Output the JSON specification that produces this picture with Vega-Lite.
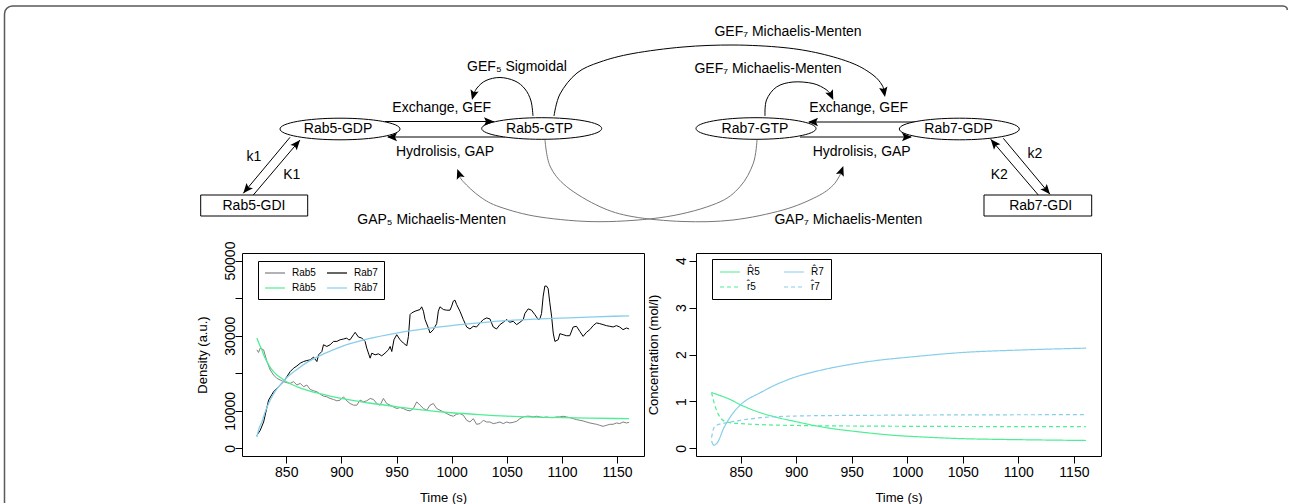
{
"$schema":"https://vega.github.io/schema/vega-lite/v6.json",
"padding":0,
"background":"white",
"config":{"font":"Liberation Sans","view":{"stroke":null},
 "axis":{"grid":false,"domain":false,"tickColor":"black","tickSize":7,"tickWidth":1,"labelColor":"black","titleColor":"black","labelFontSize":14,"titleFontSize":13,"titleFontWeight":"normal","labelFlush":false,"labelOverlap":false}},
"bounds":"flush",
"spacing":13,
"resolve":{"scale":{"color":"independent","strokeDash":"independent"},"legend":{"color":"independent","strokeDash":"independent"}},
"vconcat":[
{
 "width":1289,"height":240,
 "encoding":{
  "x":{"field":"x","type":"quantitative","scale":{"domain":[0,1289],"nice":false,"zero":false},"axis":null},
  "y":{"field":"y","type":"quantitative","scale":{"domain":[0,240],"nice":false,"zero":false,"reverse":true},"axis":null}
 },
 "layer":[
  {"data":{"values":[{"i":0,"x":4.5,"y":503},{"i":1,"x":4.5,"y":14},{"i":2,"x":5.1,"y":10.8},{"i":3,"x":6.8,"y":8.3},{"i":4,"x":9.3,"y":6.6},{"i":5,"x":12.5,"y":6},{"i":6,"x":1283,"y":6},{"i":7,"x":1285.5,"y":6.6},{"i":8,"x":1287,"y":8.2},{"i":9,"x":1287.4,"y":10}]},
   "mark":{"type":"line","stroke":"#5a5a5a","strokeWidth":1.5},
   "encoding":{"order":{"field":"i","type":"quantitative"}}},
  {"data":{"values":[
    {"x":385,"y":121.5,"x2":494,"y2":121.5},
    {"x":505,"y":137,"x2":388,"y2":137},
    {"x":925,"y":122,"x2":809,"y2":122},
    {"x":800,"y":137,"x2":911,"y2":137},
    {"x":290,"y":137.3,"x2":243.3,"y2":193.3},
    {"x":253.3,"y":195,"x2":300,"y2":140},
    {"x":1003.3,"y":138.3,"x2":1050,"y2":194.3},
    {"x":1038.3,"y":195,"x2":990.7,"y2":139.3}]},
   "mark":{"type":"rule","stroke":"black","strokeWidth":1},
   "encoding":{"x2":{"field":"x2"},"y2":{"field":"y2"}}},
  {"data":{"values":[
    {"id":"a","i":0,"x":533,"y":116},{"id":"a","i":1,"x":531,"y":101},{"id":"a","i":2,"x":525,"y":89},{"id":"a","i":3,"x":515,"y":81},{"id":"a","i":4,"x":500,"y":77.5},{"id":"a","i":5,"x":486,"y":80.5},{"id":"a","i":6,"x":477,"y":88},{"id":"a","i":7,"x":472.5,"y":97},
    {"id":"b","i":0,"x":554,"y":116},{"id":"b","i":1,"x":560,"y":94},{"id":"b","i":2,"x":577,"y":73},{"id":"b","i":3,"x":600,"y":62},{"id":"b","i":4,"x":633,"y":53.5},{"id":"b","i":5,"x":683,"y":47},{"id":"b","i":6,"x":733,"y":45},{"id":"b","i":7,"x":783,"y":47.5},{"id":"b","i":8,"x":820,"y":53.5},{"id":"b","i":9,"x":853,"y":63.5},{"id":"b","i":10,"x":873,"y":75},{"id":"b","i":11,"x":882,"y":85},{"id":"b","i":12,"x":885,"y":94},
    {"id":"c","i":0,"x":765,"y":116},{"id":"c","i":1,"x":766.5,"y":100},{"id":"c","i":2,"x":776.5,"y":87},{"id":"c","i":3,"x":793,"y":82},{"id":"c","i":4,"x":813,"y":83.5},{"id":"c","i":5,"x":826,"y":89.5},{"id":"c","i":6,"x":832,"y":96}]},
   "mark":{"type":"line","interpolate":"cardinal","stroke":"black","strokeWidth":1},
   "encoding":{"detail":{"field":"id"},"order":{"field":"i","type":"quantitative"}}},
  {"data":{"values":[
    {"id":"d","i":0,"x":545,"y":140},{"id":"d","i":1,"x":550,"y":166},{"id":"d","i":2,"x":566.7,"y":186.7},{"id":"d","i":3,"x":600,"y":206.7},{"id":"d","i":4,"x":633,"y":216.7},{"id":"d","i":5,"x":683,"y":221.5},{"id":"d","i":6,"x":733,"y":220},{"id":"d","i":7,"x":783,"y":210},{"id":"d","i":8,"x":816.7,"y":196.7},{"id":"d","i":9,"x":833.3,"y":185},{"id":"d","i":10,"x":841.5,"y":172},
    {"id":"e","i":0,"x":757,"y":140},{"id":"e","i":1,"x":753.3,"y":163.3},{"id":"e","i":2,"x":740,"y":186.7},{"id":"e","i":3,"x":716.7,"y":203.3},{"id":"e","i":4,"x":666.7,"y":216.7},{"id":"e","i":5,"x":600,"y":221.7},{"id":"e","i":6,"x":540,"y":217},{"id":"e","i":7,"x":500,"y":207},{"id":"e","i":8,"x":480,"y":196.7},{"id":"e","i":9,"x":463.3,"y":181.7},{"id":"e","i":10,"x":458.5,"y":174}]},
   "mark":{"type":"line","interpolate":"cardinal","stroke":"#777777","strokeWidth":1},
   "encoding":{"detail":{"field":"id"},"order":{"field":"i","type":"quantitative"}}},
  {"data":{"values":[{"x":340,"y":129},{"x":541.7,"y":128.5},{"x":756,"y":128.5},{"x":959.3,"y":129}]},
   "mark":{"type":"point","shape":"M-1,0A1,0.18,0,0,1,1,0A1,0.18,0,0,1,-1,0Z","size":14400,"filled":true,"fill":"white","stroke":"black","strokeWidth":1,"opacity":1}},
  {"data":{"values":[{"x":200.7,"y":195,"x2":307.7,"y2":216},{"x":984,"y":195,"x2":1091.7,"y2":216}]},
   "mark":{"type":"rect","fill":"white","stroke":"black","strokeWidth":1},
   "encoding":{"x2":{"field":"x2"},"y2":{"field":"y2"}}},
  {"data":{"values":[
    {"x":494,"y":121.5,"a":90},{"x":387,"y":137,"a":270},{"x":808,"y":122,"a":270},{"x":912,"y":137,"a":90},
    {"x":243.3,"y":193.3,"a":219.8},{"x":300,"y":140,"a":40.3},{"x":1050,"y":194.3,"a":140.2},{"x":990.7,"y":139.3,"a":319.5},
    {"x":472,"y":100,"a":195},{"x":885,"y":97,"a":170},{"x":833.3,"y":100,"a":155},{"x":457.3,"y":169,"a":340},{"x":843.3,"y":166,"a":20}]},
   "mark":{"type":"point","shape":"M0,0L-0.42,1L0,0.8L0.42,1Z","size":400,"filled":true,"fill":"black","strokeWidth":0,"opacity":1},
   "encoding":{"angle":{"field":"a","type":"quantitative","scale":null}}},
  {"data":{"values":[
    {"x":338,"y":129,"t":"Rab5-GDP"},{"x":539.5,"y":128.5,"t":"Rab5-GTP"},{"x":755,"y":128.5,"t":"Rab7-GTP"},{"x":958.5,"y":129,"t":"Rab7-GDP"},
    {"x":254,"y":205.7,"t":"Rab5-GDI"},{"x":1040.7,"y":205.7,"t":"Rab7-GDI"},
    {"x":441.7,"y":108.3,"t":"Exchange, GEF"},{"x":445,"y":151.7,"t":"Hydrolisis, GAP"},
    {"x":858.7,"y":108.3,"t":"Exchange, GEF"},{"x":861.7,"y":151.7,"t":"Hydrolisis, GAP"},
    {"x":517,"y":67,"t":"GEF₅ Sigmoidal"},{"x":788,"y":32.3,"t":"GEF₇ Michaelis-Menten"},{"x":768,"y":69.3,"t":"GEF₇ Michaelis-Menten"},
    {"x":431.7,"y":220,"t":"GAP₅ Michaelis-Menten"},{"x":848.4,"y":220,"t":"GAP₇ Michaelis-Menten"},
    {"x":254,"y":156.7,"t":"k1"},{"x":291.7,"y":175,"t":"K1"},{"x":1035,"y":154,"t":"k2"},{"x":999.3,"y":175,"t":"K2"}]},
   "mark":{"type":"text","align":"center","baseline":"middle","fontSize":14,"fill":"black"},
   "encoding":{"text":{"field":"t"}}}
 ]
},
{
 "bounds":"flush",
 "spacing":52,
 "resolve":{"scale":{"color":"independent","strokeDash":"independent"},"legend":{"color":"independent","strokeDash":"independent"}},
 "hconcat":[
  {"width":190,"height":203,"data":{"values":[{}]},"mark":{"type":"point","opacity":0}},
  {
   "width":402,"height":203,
   "view":{"stroke":"black","strokeWidth":1},
   "encoding":{
    "x":{"field":"t","type":"quantitative","scale":{"domain":[809.9,1174.4],"nice":false,"zero":false},"axis":{"values":[850,900,950,1000,1050,1100,1150],"format":"d","title":"Time (s)","labelPadding":2,"titlePadding":12}},
    "y":{"field":"v","type":"quantitative","scale":{"domain":[-2000,52000],"nice":false,"zero":false},"axis":{"values":[0,10000,20000,30000,40000,50000],"format":"d","title":"Density (a.u.)","labelAngle":-90,"labelAlign":"center","labelBaseline":"alphabetic","labelPadding":1,"titlePadding":14,"labelExpr":"datum.value == 20000 || datum.value == 40000 ? '' : datum.label"}},
    "color":{"field":"s","type":"nominal","scale":{"domain":["Rab5","Rab7","Rab5hat","Rab7hat"],"range":["#7f7f7f","#000000","#4eee94","#87ceeb"]},
     "legend":{"title":null,"orient":"none","legendX":16,"legendY":8,"direction":"horizontal","columns":2,"symbolType":"M-2,0H2","symbolSize":100,"symbolOffset":5,"symbolStrokeWidth":1.2,"labelFontSize":10,"labelColor":"black","labelOffset":11,"columnPadding":8,"rowPadding":4,"padding":6,"strokeColor":"black","fillColor":"white","labelExpr":"datum.label == 'Rab5hat' ? 'Ra\u0302b5' : datum.label == 'Rab7hat' ? 'Ra\u0302b7' : datum.label"}}
   },
   "layer":[
    {"data":{"values":[
{"t":823.4,"v":26250,"s":"Rab5"},{"t":824.9,"v":25540,"s":"Rab5"},{"t":826.4,"v":26700,"s":"Rab5"},{"t":829.5,"v":26250,"s":"Rab5"},{"t":832.5,"v":23130,"s":"Rab5"},{"t":835.5,"v":20890,"s":"Rab5"},{"t":838.5,"v":19550,"s":"Rab5"},{"t":841.5,"v":18660,"s":"Rab5"},{"t":844.6,"v":18210,"s":"Rab5"},{"t":847.6,"v":17770,"s":"Rab5"},{"t":850.6,"v":17500,"s":"Rab5"},{"t":853.6,"v":17320,"s":"Rab5"},{"t":856.6,"v":17770,"s":"Rab5"},{"t":859.7,"v":16880,"s":"Rab5"},{"t":862.7,"v":17320,"s":"Rab5"},{"t":865.7,"v":16430,"s":"Rab5"},{"t":868.7,"v":16880,"s":"Rab5"},{"t":871.7,"v":15710,"s":"Rab5"},{"t":874.8,"v":15360,"s":"Rab5"},{"t":877.8,"v":15090,"s":"Rab5"},{"t":880.8,"v":14460,"s":"Rab5"},{"t":883.8,"v":13930,"s":"Rab5"},{"t":886.8,"v":13750,"s":"Rab5"},{"t":889.8,"v":13300,"s":"Rab5"},{"t":892.9,"v":13040,"s":"Rab5"},{"t":895.9,"v":12680,"s":"Rab5"},{"t":898.9,"v":12860,"s":"Rab5"},{"t":901.9,"v":13750,"s":"Rab5"},{"t":904.9,"v":12680,"s":"Rab5"},{"t":907.9,"v":11960,"s":"Rab5"},{"t":911.0,"v":11520,"s":"Rab5"},{"t":914.0,"v":11520,"s":"Rab5"},{"t":917.0,"v":12860,"s":"Rab5"},{"t":920.0,"v":12410,"s":"Rab5"},{"t":923.0,"v":12680,"s":"Rab5"},{"t":926.1,"v":13300,"s":"Rab5"},{"t":929.1,"v":13040,"s":"Rab5"},{"t":932.1,"v":11960,"s":"Rab5"},{"t":935.1,"v":11520,"s":"Rab5"},{"t":938.1,"v":13300,"s":"Rab5"},{"t":941.1,"v":11960,"s":"Rab5"},{"t":944.2,"v":11520,"s":"Rab5"},{"t":947.2,"v":11070,"s":"Rab5"},{"t":950.2,"v":10630,"s":"Rab5"},{"t":953.2,"v":10890,"s":"Rab5"},{"t":956.2,"v":10630,"s":"Rab5"},{"t":959.3,"v":10180,"s":"Rab5"},{"t":962.3,"v":10000,"s":"Rab5"},{"t":965.3,"v":10630,"s":"Rab5"},{"t":968.3,"v":12410,"s":"Rab5"},{"t":971.3,"v":11520,"s":"Rab5"},{"t":974.4,"v":10630,"s":"Rab5"},{"t":977.4,"v":10180,"s":"Rab5"},{"t":980.4,"v":11520,"s":"Rab5"},{"t":983.4,"v":11960,"s":"Rab5"},{"t":986.4,"v":10630,"s":"Rab5"},{"t":989.4,"v":10180,"s":"Rab5"},{"t":992.5,"v":9730,"s":"Rab5"},{"t":995.5,"v":9290,"s":"Rab5"},{"t":998.5,"v":8840,"s":"Rab5"},{"t":1001.5,"v":8570,"s":"Rab5"},{"t":1004.5,"v":9110,"s":"Rab5"},{"t":1007.5,"v":9290,"s":"Rab5"},{"t":1010.6,"v":8840,"s":"Rab5"},{"t":1013.6,"v":7500,"s":"Rab5"},{"t":1016.6,"v":7050,"s":"Rab5"},{"t":1019.6,"v":7950,"s":"Rab5"},{"t":1022.6,"v":6430,"s":"Rab5"},{"t":1025.7,"v":6610,"s":"Rab5"},{"t":1028.7,"v":7500,"s":"Rab5"},{"t":1031.7,"v":7050,"s":"Rab5"},{"t":1034.7,"v":7050,"s":"Rab5"},{"t":1037.7,"v":6610,"s":"Rab5"},{"t":1040.7,"v":6790,"s":"Rab5"},{"t":1043.8,"v":7050,"s":"Rab5"},{"t":1046.8,"v":6610,"s":"Rab5"},{"t":1049.8,"v":7050,"s":"Rab5"},{"t":1052.8,"v":6790,"s":"Rab5"},{"t":1055.8,"v":6960,"s":"Rab5"},{"t":1058.9,"v":7230,"s":"Rab5"},{"t":1061.9,"v":7950,"s":"Rab5"},{"t":1064.9,"v":8390,"s":"Rab5"},{"t":1067.9,"v":8570,"s":"Rab5"},{"t":1070.9,"v":8570,"s":"Rab5"},{"t":1073.9,"v":8390,"s":"Rab5"},{"t":1077.0,"v":8570,"s":"Rab5"},{"t":1080.0,"v":8390,"s":"Rab5"},{"t":1083.0,"v":8210,"s":"Rab5"},{"t":1086.0,"v":8390,"s":"Rab5"},{"t":1089.0,"v":8210,"s":"Rab5"},{"t":1092.1,"v":8210,"s":"Rab5"},{"t":1095.1,"v":8390,"s":"Rab5"},{"t":1098.1,"v":8390,"s":"Rab5"},{"t":1101.1,"v":8570,"s":"Rab5"},{"t":1104.1,"v":8390,"s":"Rab5"},{"t":1107.1,"v":8210,"s":"Rab5"},{"t":1110.2,"v":7950,"s":"Rab5"},{"t":1113.2,"v":7680,"s":"Rab5"},{"t":1116.2,"v":7500,"s":"Rab5"},{"t":1119.2,"v":7320,"s":"Rab5"},{"t":1122.2,"v":7050,"s":"Rab5"},{"t":1125.3,"v":6790,"s":"Rab5"},{"t":1128.3,"v":6610,"s":"Rab5"},{"t":1131.3,"v":6430,"s":"Rab5"},{"t":1134.3,"v":6160,"s":"Rab5"},{"t":1137.3,"v":5890,"s":"Rab5"},{"t":1140.3,"v":6160,"s":"Rab5"},{"t":1143.4,"v":6430,"s":"Rab5"},{"t":1146.4,"v":6430,"s":"Rab5"},{"t":1149.4,"v":6790,"s":"Rab5"},{"t":1152.4,"v":6610,"s":"Rab5"},{"t":1155.4,"v":7050,"s":"Rab5"},{"t":1158.5,"v":6790,"s":"Rab5"},{"t":1160.9,"v":6960,"s":"Rab5"},
{"t":823.4,"v":3480,"s":"Rab7"},{"t":826.4,"v":4820,"s":"Rab7"},{"t":829.5,"v":7050,"s":"Rab7"},{"t":834.0,"v":12860,"s":"Rab7"},{"t":838.5,"v":15090,"s":"Rab7"},{"t":843.0,"v":16430,"s":"Rab7"},{"t":847.6,"v":17770,"s":"Rab7"},{"t":850.6,"v":19110,"s":"Rab7"},{"t":853.6,"v":20450,"s":"Rab7"},{"t":856.6,"v":21340,"s":"Rab7"},{"t":859.7,"v":21960,"s":"Rab7"},{"t":862.7,"v":22680,"s":"Rab7"},{"t":865.7,"v":23130,"s":"Rab7"},{"t":868.7,"v":23390,"s":"Rab7"},{"t":871.7,"v":23570,"s":"Rab7"},{"t":874.8,"v":24290,"s":"Rab7"},{"t":877.8,"v":23130,"s":"Rab7"},{"t":879.3,"v":24910,"s":"Rab7"},{"t":882.3,"v":25800,"s":"Rab7"},{"t":883.8,"v":27590,"s":"Rab7"},{"t":886.8,"v":27140,"s":"Rab7"},{"t":889.8,"v":27590,"s":"Rab7"},{"t":892.9,"v":28480,"s":"Rab7"},{"t":895.9,"v":28480,"s":"Rab7"},{"t":898.9,"v":28930,"s":"Rab7"},{"t":901.9,"v":29110,"s":"Rab7"},{"t":904.9,"v":29380,"s":"Rab7"},{"t":906.4,"v":28930,"s":"Rab7"},{"t":907.9,"v":28930,"s":"Rab7"},{"t":911.0,"v":30270,"s":"Rab7"},{"t":912.5,"v":30890,"s":"Rab7"},{"t":915.5,"v":29640,"s":"Rab7"},{"t":918.5,"v":29380,"s":"Rab7"},{"t":920.0,"v":28930,"s":"Rab7"},{"t":921.5,"v":28480,"s":"Rab7"},{"t":923.0,"v":26700,"s":"Rab7"},{"t":926.1,"v":24020,"s":"Rab7"},{"t":927.6,"v":25360,"s":"Rab7"},{"t":930.6,"v":24910,"s":"Rab7"},{"t":933.6,"v":25180,"s":"Rab7"},{"t":936.6,"v":24640,"s":"Rab7"},{"t":939.6,"v":25360,"s":"Rab7"},{"t":942.7,"v":26250,"s":"Rab7"},{"t":944.2,"v":27140,"s":"Rab7"},{"t":945.7,"v":25800,"s":"Rab7"},{"t":947.7,"v":28930,"s":"Rab7"},{"t":950.2,"v":30270,"s":"Rab7"},{"t":953.2,"v":28930,"s":"Rab7"},{"t":956.2,"v":28040,"s":"Rab7"},{"t":959.3,"v":27320,"s":"Rab7"},{"t":960.8,"v":29820,"s":"Rab7"},{"t":962.3,"v":35630,"s":"Rab7"},{"t":963.8,"v":36070,"s":"Rab7"},{"t":966.8,"v":36520,"s":"Rab7"},{"t":971.3,"v":36960,"s":"Rab7"},{"t":972.8,"v":37680,"s":"Rab7"},{"t":974.4,"v":36520,"s":"Rab7"},{"t":975.9,"v":34290,"s":"Rab7"},{"t":978.9,"v":32050,"s":"Rab7"},{"t":980.4,"v":30710,"s":"Rab7"},{"t":983.4,"v":31610,"s":"Rab7"},{"t":986.4,"v":33210,"s":"Rab7"},{"t":987.9,"v":36520,"s":"Rab7"},{"t":989.4,"v":37680,"s":"Rab7"},{"t":992.5,"v":36960,"s":"Rab7"},{"t":995.5,"v":36790,"s":"Rab7"},{"t":998.5,"v":36790,"s":"Rab7"},{"t":1000.0,"v":37860,"s":"Rab7"},{"t":1001.5,"v":39200,"s":"Rab7"},{"t":1003.0,"v":39460,"s":"Rab7"},{"t":1004.5,"v":38300,"s":"Rab7"},{"t":1007.5,"v":36520,"s":"Rab7"},{"t":1010.6,"v":34290,"s":"Rab7"},{"t":1013.6,"v":32320,"s":"Rab7"},{"t":1016.6,"v":31790,"s":"Rab7"},{"t":1019.6,"v":32500,"s":"Rab7"},{"t":1022.6,"v":32320,"s":"Rab7"},{"t":1025.7,"v":33390,"s":"Rab7"},{"t":1028.7,"v":34290,"s":"Rab7"},{"t":1031.7,"v":34730,"s":"Rab7"},{"t":1034.7,"v":34460,"s":"Rab7"},{"t":1037.7,"v":32320,"s":"Rab7"},{"t":1040.7,"v":31790,"s":"Rab7"},{"t":1043.8,"v":32950,"s":"Rab7"},{"t":1046.8,"v":33570,"s":"Rab7"},{"t":1049.8,"v":34290,"s":"Rab7"},{"t":1052.8,"v":33570,"s":"Rab7"},{"t":1055.8,"v":33840,"s":"Rab7"},{"t":1058.9,"v":32950,"s":"Rab7"},{"t":1061.9,"v":33570,"s":"Rab7"},{"t":1064.9,"v":34290,"s":"Rab7"},{"t":1066.4,"v":35890,"s":"Rab7"},{"t":1069.4,"v":37140,"s":"Rab7"},{"t":1072.4,"v":36790,"s":"Rab7"},{"t":1075.4,"v":35630,"s":"Rab7"},{"t":1078.5,"v":34290,"s":"Rab7"},{"t":1080.0,"v":34460,"s":"Rab7"},{"t":1081.5,"v":35890,"s":"Rab7"},{"t":1083.0,"v":40540,"s":"Rab7"},{"t":1084.5,"v":43210,"s":"Rab7"},{"t":1086.0,"v":43210,"s":"Rab7"},{"t":1087.5,"v":42500,"s":"Rab7"},{"t":1089.0,"v":38750,"s":"Rab7"},{"t":1090.6,"v":35180,"s":"Rab7"},{"t":1092.1,"v":30710,"s":"Rab7"},{"t":1093.6,"v":28480,"s":"Rab7"},{"t":1096.6,"v":28930,"s":"Rab7"},{"t":1098.1,"v":30540,"s":"Rab7"},{"t":1101.1,"v":30270,"s":"Rab7"},{"t":1104.1,"v":30000,"s":"Rab7"},{"t":1107.1,"v":30000,"s":"Rab7"},{"t":1110.2,"v":32320,"s":"Rab7"},{"t":1113.2,"v":32500,"s":"Rab7"},{"t":1116.2,"v":31160,"s":"Rab7"},{"t":1119.2,"v":29820,"s":"Rab7"},{"t":1122.2,"v":30890,"s":"Rab7"},{"t":1125.3,"v":31610,"s":"Rab7"},{"t":1128.3,"v":32680,"s":"Rab7"},{"t":1131.3,"v":33390,"s":"Rab7"},{"t":1134.3,"v":33210,"s":"Rab7"},{"t":1137.3,"v":32950,"s":"Rab7"},{"t":1140.3,"v":32680,"s":"Rab7"},{"t":1143.4,"v":32500,"s":"Rab7"},{"t":1146.4,"v":32320,"s":"Rab7"},{"t":1149.4,"v":32680,"s":"Rab7"},{"t":1152.4,"v":32320,"s":"Rab7"},{"t":1155.4,"v":31610,"s":"Rab7"},{"t":1158.5,"v":32050,"s":"Rab7"},{"t":1160.9,"v":31790,"s":"Rab7"}
    ]},
     "mark":{"type":"line","strokeWidth":1}},
    {"data":{"values":[
{"t":823.4,"v":29380,"s":"Rab5hat"},{"t":825.5,"v":27800,"s":"Rab5hat"},{"t":827.9,"v":26250,"s":"Rab5hat"},{"t":830,"v":24600,"s":"Rab5hat"},{"t":832.5,"v":23130,"s":"Rab5hat"},{"t":835.5,"v":21600,"s":"Rab5hat"},{"t":838.5,"v":20450,"s":"Rab5hat"},{"t":841.5,"v":19550,"s":"Rab5hat"},{"t":844.6,"v":18900,"s":"Rab5hat"},{"t":850,"v":17800,"s":"Rab5hat"},{"t":860,"v":16400,"s":"Rab5hat"},{"t":870,"v":15400,"s":"Rab5hat"},{"t":885,"v":14300,"s":"Rab5hat"},{"t":900,"v":13300,"s":"Rab5hat"},{"t":925,"v":12100,"s":"Rab5hat"},{"t":950,"v":11100,"s":"Rab5hat"},{"t":975,"v":10200,"s":"Rab5hat"},{"t":1000,"v":9500,"s":"Rab5hat"},{"t":1025,"v":9000,"s":"Rab5hat"},{"t":1050,"v":8600,"s":"Rab5hat"},{"t":1075,"v":8350,"s":"Rab5hat"},{"t":1100,"v":8200,"s":"Rab5hat"},{"t":1125,"v":8050,"s":"Rab5hat"},{"t":1160.9,"v":7950,"s":"Rab5hat"},
{"t":823.4,"v":3000,"s":"Rab7hat"},{"t":825,"v":5000,"s":"Rab7hat"},{"t":827.9,"v":7050,"s":"Rab7hat"},{"t":831,"v":9800,"s":"Rab7hat"},{"t":835.5,"v":12900,"s":"Rab7hat"},{"t":840,"v":15200,"s":"Rab7hat"},{"t":845,"v":17100,"s":"Rab7hat"},{"t":850,"v":18700,"s":"Rab7hat"},{"t":860,"v":21100,"s":"Rab7hat"},{"t":870,"v":23100,"s":"Rab7hat"},{"t":885,"v":25300,"s":"Rab7hat"},{"t":900,"v":27100,"s":"Rab7hat"},{"t":925,"v":29200,"s":"Rab7hat"},{"t":950,"v":30700,"s":"Rab7hat"},{"t":975,"v":31800,"s":"Rab7hat"},{"t":1000,"v":32700,"s":"Rab7hat"},{"t":1025,"v":33400,"s":"Rab7hat"},{"t":1050,"v":34000,"s":"Rab7hat"},{"t":1075,"v":34400,"s":"Rab7hat"},{"t":1100,"v":34700,"s":"Rab7hat"},{"t":1130,"v":35000,"s":"Rab7hat"},{"t":1160.9,"v":35300,"s":"Rab7hat"}
    ]},
     "mark":{"type":"line","strokeWidth":1.3,"interpolate":"monotone"}}
   ]
  },
  {
   "width":405,"height":203,
   "view":{"stroke":"black","strokeWidth":1},
   "data":{"values":[
{"t":823.9,"v":1.19,"s":"R5"},{"t":830,"v":1.14,"s":"R5"},{"t":840,"v":1.05,"s":"R5"},{"t":850,"v":0.93,"s":"R5"},{"t":868,"v":0.76,"s":"R5"},{"t":883,"v":0.66,"s":"R5"},{"t":898,"v":0.58,"s":"R5"},{"t":928,"v":0.44,"s":"R5"},{"t":958,"v":0.35,"s":"R5"},{"t":988,"v":0.28,"s":"R5"},{"t":1018,"v":0.24,"s":"R5"},{"t":1048,"v":0.21,"s":"R5"},{"t":1078,"v":0.195,"s":"R5"},{"t":1108,"v":0.185,"s":"R5"},{"t":1161,"v":0.17,"s":"R5"},
{"t":823.9,"v":0.16,"s":"R7"},{"t":826,"v":0.07,"s":"R7"},{"t":829,"v":0.12,"s":"R7"},{"t":835,"v":0.44,"s":"R7"},{"t":842.5,"v":0.73,"s":"R7"},{"t":850,"v":0.93,"s":"R7"},{"t":868,"v":1.19,"s":"R7"},{"t":883,"v":1.37,"s":"R7"},{"t":898,"v":1.51,"s":"R7"},{"t":925,"v":1.68,"s":"R7"},{"t":949,"v":1.79,"s":"R7"},{"t":975,"v":1.88,"s":"R7"},{"t":1000,"v":1.94,"s":"R7"},{"t":1048,"v":2.04,"s":"R7"},{"t":1108,"v":2.1,"s":"R7"},{"t":1161,"v":2.135,"s":"R7"},
{"t":823.9,"v":1.19,"s":"r5"},{"t":827.5,"v":0.87,"s":"r5"},{"t":832,"v":0.65,"s":"r5"},{"t":838,"v":0.56,"s":"r5"},{"t":850,"v":0.53,"s":"r5"},{"t":898,"v":0.49,"s":"r5"},{"t":958,"v":0.477,"s":"r5"},{"t":1161,"v":0.463,"s":"r5"},
{"t":823.9,"v":0.23,"s":"r7"},{"t":826,"v":0.44,"s":"r7"},{"t":829,"v":0.5,"s":"r7"},{"t":838,"v":0.55,"s":"r7"},{"t":850,"v":0.6,"s":"r7"},{"t":868,"v":0.655,"s":"r7"},{"t":898,"v":0.69,"s":"r7"},{"t":958,"v":0.705,"s":"r7"},{"t":1161,"v":0.72,"s":"r7"}
   ]},
   "mark":{"type":"line","strokeWidth":1.2,"interpolate":"monotone"},
   "encoding":{
    "x":{"field":"t","type":"quantitative","scale":{"domain":[809.9,1174.4],"nice":false,"zero":false},"axis":{"values":[850,900,950,1000,1050,1100,1150],"format":"d","title":"Time (s)","labelPadding":2,"titlePadding":12}},
    "y":{"field":"v","type":"quantitative","scale":{"domain":[-0.16,4.16],"nice":false,"zero":false},"axis":{"values":[0,1,2,3,4],"format":"d","title":"Concentration (mol/l)","labelAngle":-90,"labelAlign":"center","labelBaseline":"alphabetic","labelPadding":4,"titlePadding":14}},
    "color":{"field":"s","type":"nominal","scale":{"domain":["R5","R7","r5","r7"],"range":["#4eee94","#87ceeb","#4eee94","#87ceeb"]},
     "legend":{"title":null,"orient":"none","legendX":16,"legendY":6,"direction":"horizontal","columns":2,"symbolType":"M-2,0H2","symbolSize":100,"symbolOffset":5,"symbolStrokeWidth":1.2,"labelFontSize":10,"labelColor":"black","labelOffset":11,"columnPadding":21,"rowPadding":4,"padding":7,"strokeColor":"black","fillColor":"white","labelExpr":"datum.label == 'R5' ? 'R\u03025' : datum.label == 'R7' ? 'R\u03027' : datum.label == 'r5' ? 'r\u03025' : 'r\u03027'"}},
    "strokeDash":{"field":"s","type":"nominal","scale":{"domain":["R5","R7","r5","r7"],"range":[[1,0],[1,0],[4,3],[4,3]]},
     "legend":{"title":null,"orient":"none","legendX":16,"legendY":6,"direction":"horizontal","columns":2,"symbolType":"M-2,0H2","symbolSize":100,"symbolOffset":5,"symbolStrokeWidth":1.2,"labelFontSize":10,"labelColor":"black","labelOffset":11,"columnPadding":21,"rowPadding":4,"padding":7,"strokeColor":"black","fillColor":"white","labelExpr":"datum.label == 'R5' ? 'R\u03025' : datum.label == 'R7' ? 'R\u03027' : datum.label == 'r5' ? 'r\u03025' : 'r\u03027'"}}
   }
  }
 ]
}
]
}
